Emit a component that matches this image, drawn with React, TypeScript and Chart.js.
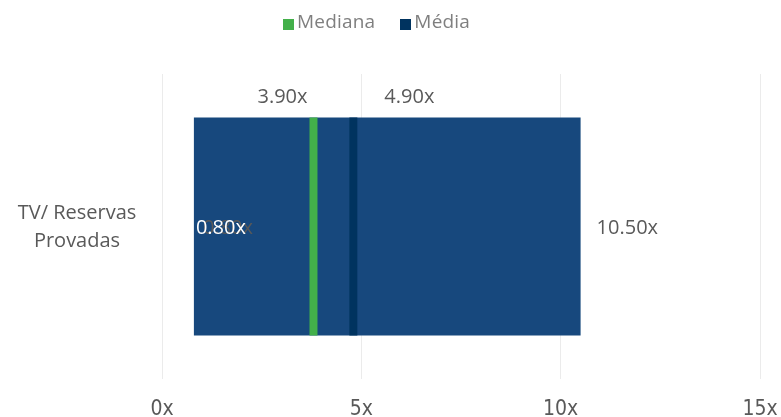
import React, { useEffect, useRef } from "react";
import { Chart, registerables } from "chart.js";

Chart.register(...registerables);

const categories = ["TV/ Reservas Provadas"];
const categoryLines = [["TV/ Reservas", "Provadas"]];
const rangeValues: [number, number][] = [[0.8, 10.5]];
const medianValues: [number, number][] = [[3.7, 3.9]];
const meanValues: [number, number][] = [[4.7, 4.9]];
const minLabel = ["0.80x"];
const maxLabel = ["10.50x"];
const medianLabel = ["3.90x"];
const meanLabel = ["4.90x"];
const xTicks = [0, 5, 10, 15];

const RANGE_COLOR = "#17487D";
const MEDIAN_COLOR = "#43B04A";
const MEAN_COLOR = "#00335F";
const TEXT_COLOR = "#595959";
const LABEL_FONT = '"Open Sans", "Noto Sans", sans-serif';

const labelPlugin = {
  id: "customLabels",
  afterDatasetsDraw(chart: any) {
    const ctx = chart.ctx;
    const xs = chart.scales.x;
    const ys = chart.scales.y;
    ctx.save();
    ctx.textBaseline = "middle";
    categories.forEach((_cat, i) => {
      const yc = ys.getPixelForValue(i);
      ctx.font = `20px ${LABEL_FONT}`;
      ctx.fillStyle = TEXT_COLOR;
      ctx.textAlign = "center";
      const lines = categoryLines[i];
      ctx.fillText(lines[0], 77, yc - 13);
      ctx.fillText(lines[1], 77, yc + 15);

      const xmin = xs.getPixelForValue(rangeValues[i][0]);
      ctx.textAlign = "left";
      ctx.fillStyle = TEXT_COLOR;
      ctx.fillText(minLabel[i], xmin + 9, yc + 2);
      ctx.fillStyle = "#FFFFFF";
      ctx.fillText(minLabel[i], xmin + 2, yc + 2);
      const xmax = xs.getPixelForValue(rangeValues[i][1]);
      ctx.fillStyle = TEXT_COLOR;
      ctx.fillText(maxLabel[i], xmax + 16, yc + 2);
      const top = yc - 129;
      ctx.textAlign = "center";
      ctx.fillText(medianLabel[i], xs.getPixelForValue(medianValues[i][1]) - 35, top);
      ctx.fillText(meanLabel[i], xs.getPixelForValue(meanValues[i][1]) + 52, top);
    });
    ctx.restore();
  },
};

export default function App() {
  const ref = useRef<HTMLCanvasElement>(null);
  useEffect(() => {
    if (!ref.current) return;
    const common = { grouped: false, categoryPercentage: 1, barPercentage: 0.715 };
    const chart = new Chart(ref.current, {
      type: "bar",
      data: {
        labels: categories,
        datasets: [
          { label: "Mediana", data: medianValues as any, backgroundColor: MEDIAN_COLOR, order: 0, ...common } as any,
          { label: "Média", data: meanValues as any, backgroundColor: MEAN_COLOR, order: 1, ...common } as any,
          { label: "Range", data: rangeValues as any, backgroundColor: RANGE_COLOR, order: 2, ...common } as any,
        ],
      },
      options: {
        indexAxis: "y",
        animation: false,
        responsive: false,
        maintainAspectRatio: false,
        layout: { padding: { left: 162, right: 21, top: 74, bottom: 0 } },
        plugins: {
          legend: { display: false },
          tooltip: { enabled: false },
        },
        scales: {
          x: {
            min: 0,
            max: 15,
            afterBuildTicks: (axis: any) => {
              axis.ticks = xTicks.map((v) => ({ value: v }));
            },
            grid: { color: "#EBEBEB", lineWidth: 1, drawTicks: false },
            border: { display: false },
            ticks: {
              padding: 18,
              color: TEXT_COLOR,
              font: { family: '"Liberation Sans Narrow", "DejaVu Sans Condensed", sans-serif', size: 21 },
              callback: (v: any) => `${v}x`,
            },
            afterFit: (axis: any) => {
              axis.height = 38;
              axis.paddingLeft = 0;
              axis.paddingRight = 0;
            },
          },
          y: {
            display: false,
            grid: { display: false },
          },
        },
      },
      plugins: [labelPlugin],
    });
    return () => chart.destroy();
  }, []);

  const legendText: React.CSSProperties = {
    fontFamily: LABEL_FONT,
    fontSize: 19,
    color: "#7F7F7F",
    letterSpacing: 0.2,
  };
  const box = (c: string): React.CSSProperties => ({
    width: 11,
    height: 11,
    background: c,
    display: "inline-block",
    marginRight: 3,
    marginTop: 6,
  });

  return (
    <div style={{ position: "fixed", left: 0, top: 0, width: 781, height: 417, background: "#fff" }}>
      <canvas ref={ref} width={781} height={417} style={{ position: "absolute", left: 0, top: 0 }} />
      <div
        style={{
          position: "absolute",
          left: 283,
          top: 7,
          display: "flex",
          alignItems: "center",
          height: 28,
          ...legendText,
        }}
      >
        <span style={box(MEDIAN_COLOR)} />
        <span>Mediana</span>
        <span style={{ width: 25, display: "inline-block" }} />
        <span style={box(MEAN_COLOR)} />
        <span>Média</span>
      </div>
    </div>
  );
}
